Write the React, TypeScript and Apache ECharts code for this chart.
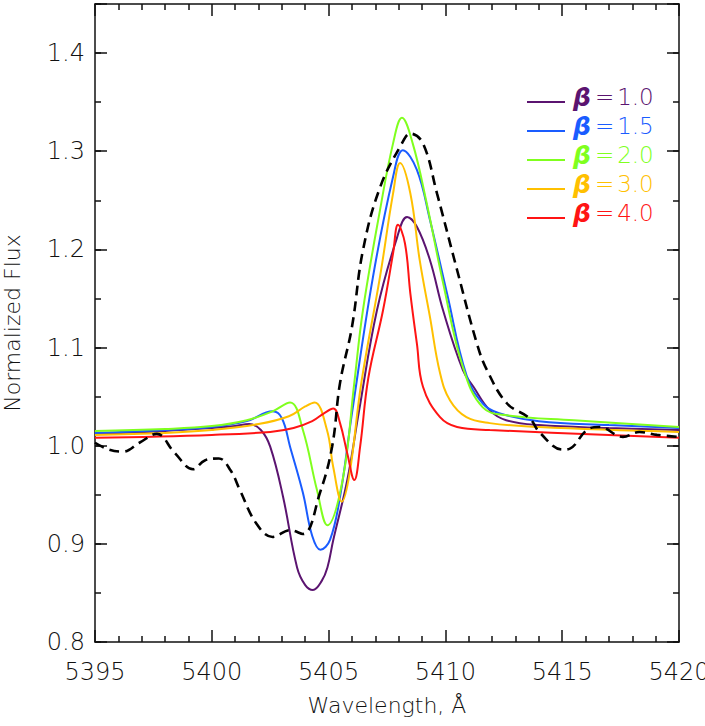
import React, { useEffect, useRef } from "react";
import * as echarts from "echarts";

// ---- data ----
const betaLabels = ["1.0", "1.5", "2.0", "3.0", "4.0"];
const betaColors = ["#5b1470", "#1a5cff", "#80ff1e", "#ffc000", "#ff1414"];

const wlB10 = [5395, 5398, 5400, 5401, 5401.6, 5402.1, 5402.5, 5403.05, 5403.65, 5404.0, 5404.33, 5404.7, 5404.95, 5405.2, 5405.8, 5406.3, 5407.07, 5407.93, 5408.36, 5408.78, 5409.34, 5409.9, 5410.75, 5411.2, 5411.9, 5412.6, 5414, 5417, 5420];
const fxB10 = [1.012, 1.015, 1.018, 1.02, 1.022, 1.016, 0.999, 0.948, 0.876, 0.858, 0.853, 0.862, 0.876, 0.904, 0.965, 1.035, 1.138, 1.212, 1.233, 1.223, 1.189, 1.138, 1.077, 1.06, 1.036, 1.026, 1.021, 1.018, 1.016];

const wlB15 = [5395, 5398, 5400, 5401.5, 5402.6, 5403.0, 5403.35, 5403.9, 5404.3, 5404.65, 5405.06, 5405.49, 5406.0, 5406.9, 5407.76, 5408.18, 5408.78, 5409.34, 5410.07, 5410.9, 5411.6, 5412.3, 5414, 5417, 5420];
const fxB15 = [1.013, 1.016, 1.019, 1.025, 1.035, 1.028, 0.999, 0.952, 0.908, 0.894, 0.904, 0.948, 1.033, 1.172, 1.274, 1.301, 1.281, 1.23, 1.155, 1.072, 1.043, 1.033, 1.025, 1.021, 1.018];

const wlB20 = [5395, 5398, 5400, 5401.5, 5402.6, 5403.35, 5403.9, 5404.5, 5404.95, 5405.6, 5406.1, 5406.47, 5407.2, 5407.76, 5408.14, 5408.6, 5409.2, 5409.9, 5410.75, 5411.6, 5412.64, 5415.5, 5420];
const fxB20 = [1.015, 1.017, 1.02, 1.026, 1.035, 1.044, 1.016, 0.955, 0.919, 0.965, 1.064, 1.138, 1.24, 1.308, 1.334, 1.308, 1.247, 1.166, 1.08, 1.039, 1.031, 1.026, 1.019];

const wlB30 = [5395, 5398, 5400, 5402, 5403.3, 5404.0, 5404.4, 5404.93, 5405.2, 5405.57, 5405.9, 5406.4, 5407.2, 5407.76, 5408.06, 5408.5, 5408.9, 5409.34, 5409.77, 5410.2, 5410.9, 5411.9, 5414, 5420];
const fxB30 = [1.011, 1.013, 1.016, 1.022, 1.03, 1.04, 1.044, 1.016, 0.978, 0.943, 0.972, 1.064, 1.172, 1.257, 1.288, 1.257, 1.189, 1.131, 1.074, 1.046, 1.029, 1.023, 1.019, 1.014];

const wlB40 = [5395, 5400, 5402.5, 5403.5, 5404.3, 5404.8, 5405.2, 5405.49, 5405.8, 5406.1, 5406.35, 5406.7, 5407.33, 5407.76, 5407.97, 5408.27, 5408.5, 5408.78, 5409.04, 5409.77, 5410.5, 5411.9, 5420];
const fxB40 = [1.008, 1.011, 1.014, 1.018, 1.025, 1.033, 1.038, 1.023, 0.992, 0.965, 0.999, 1.069, 1.138, 1.196, 1.225, 1.206, 1.155, 1.104, 1.06, 1.029, 1.019, 1.016, 1.008];

const wlObs = [5395, 5395.6, 5396.2, 5396.9, 5397.65, 5398.4, 5399.2, 5399.7, 5400.3, 5400.8, 5401.2, 5401.9, 5402.6, 5403.35, 5403.9, 5404.63, 5405.15, 5405.49, 5406.0, 5406.47, 5407.2, 5408.14, 5408.5, 5409.04, 5409.64, 5410.5, 5411.35, 5411.78, 5412.64, 5413.6, 5414.05, 5415.03, 5415.33, 5416.06, 5416.6, 5417.6, 5418.3, 5419.06, 5420];
const fxObs = [1.003, 0.996, 0.994, 1.003, 1.012, 0.993, 0.976, 0.985, 0.987, 0.975, 0.955, 0.921, 0.907, 0.914, 0.91, 0.952, 0.999, 1.064, 1.121, 1.199, 1.263, 1.308, 1.318, 1.308, 1.257, 1.179, 1.104, 1.077, 1.043, 1.028, 1.013, 0.996, 0.997, 1.016, 1.019, 1.009, 1.014, 1.011, 1.009];

const modelWl = [wlB10, wlB15, wlB20, wlB30, wlB40];
const modelFx = [fxB10, fxB15, fxB20, fxB30, fxB40];

const xMin = 5395, xMax = 5420, xMajor = 5, xMinorSplit = 5;
const yMin = 0.8, yMax = 1.45, yMajor = 0.1, yMinor = 0.05;

const FONT = "'DejaVu Sans', sans-serif";
const INK = "#111";

function pairs(xs: number[], ys: number[]) {
  return xs.map((x, i) => [x, ys[i]]);
}

export default function App() {
  const ref = useRef<HTMLDivElement>(null);
  useEffect(() => {
    if (!ref.current) return;
    const chart = echarts.init(ref.current, undefined, { renderer: "svg" });
    const axisLine = { show: true, onZero: false, lineStyle: { color: INK, width: 1.5 } };
    const majorTick = { show: true, inside: true, length: 12, lineStyle: { color: INK, width: 1.5 } };
    const minorTickX = { show: true, splitNumber: xMinorSplit, length: 6, lineStyle: { color: INK, width: 1.5 } };
    const xBase = {
      type: "value" as const, min: xMin, max: xMax, interval: xMajor,
      axisLine, axisTick: majorTick, minorTick: minorTickX,
      splitLine: { show: false }, minorSplitLine: { show: false },
    };
    const yBase = {
      type: "value" as const, min: yMin, max: yMax,
      splitLine: { show: false }, minorSplitLine: { show: false },
    };
    const labelFmt = (v: number) => {
      const k = v / yMajor;
      return Math.abs(k - Math.round(k)) < 1e-6 ? v.toFixed(1) : "";
    };

    const series: any[] = modelWl.map((wl, i) => ({
      type: "line",
      name: "β=" + betaLabels[i],
      data: pairs(wl, modelFx[i]),
      xAxisIndex: 0, yAxisIndex: 0,
      showSymbol: false, symbol: "none",
      smooth: 0.4,
      lineStyle: { color: betaColors[i], width: 2 },
      z: 3 + i,
    }));
    series.push({
      type: "line",
      name: "observed",
      data: pairs(wlObs, fxObs),
      xAxisIndex: 0, yAxisIndex: 0,
      showSymbol: false, symbol: "none",
      smooth: 0.4,
      lineStyle: { color: "#000", width: 2.6, type: [10, 6] },
      z: 10,
    });

    const legendGraphics: any[] = [];
    betaLabels.forEach((lab, i) => {
      const y = 102 + i * 29;
      legendGraphics.push({
        type: "line", shape: { x1: 527, y1: y, x2: 565, y2: y },
        style: { stroke: betaColors[i], lineWidth: 2 }, z: 20,
      });
      legendGraphics.push({
        type: "text", x: 573, y: y - 5, z: 20,
        style: {
          text: "{b|β}{e|=}{n|" + lab + "}",
          verticalAlign: "middle", align: "left",
          rich: {
            b: { fontFamily: FONT, fontSize: 25, fontWeight: "bold", fontStyle: "italic", fill: betaColors[i] },
            e: { fontFamily: FONT, fontSize: 23, fontWeight: 200, fill: betaColors[i], padding: [0, 3, 0, 4] },
            n: { fontFamily: FONT, fontSize: 23, fontWeight: 200, fill: betaColors[i] },
          },
        },
      });
    });

    const labelStyle = { fontSize: 24, color: INK, fontFamily: FONT, fontWeight: 200 as any };

    chart.setOption({
      animation: false,
      backgroundColor: "#fff",
      grid: { left: 95, right: 26, top: 4, bottom: 84, containLabel: false, outerBoundsMode: "none" },
      xAxis: [
        {
          ...xBase, position: "bottom",
          axisLabel: { show: true, ...labelStyle, margin: 18, formatter: (v: number) => String(Math.round(v)) },
          name: "Wavelength, Å", nameLocation: "middle", nameGap: 52,
          nameTextStyle: { fontSize: 22, color: INK, fontFamily: FONT, fontWeight: 200 },
        },
        { ...xBase, position: "top", axisLabel: { show: false } },
      ],
      yAxis: [
        {
          ...yBase, interval: yMajor, position: "left",
          axisLine, axisTick: majorTick,
          axisLabel: { show: true, ...labelStyle, margin: 10, formatter: labelFmt },
          name: "Normalized Flux", nameLocation: "middle", nameGap: 72,
          nameTextStyle: { fontSize: 22, color: INK, fontFamily: FONT, fontWeight: 200 },
        },
        { ...yBase, interval: yMajor, position: "right", axisLine, axisTick: majorTick, axisLabel: { show: false } },
        {
          ...yBase, interval: yMinor, position: "left",
          axisLine: { show: false }, axisLabel: { show: false },
          axisTick: { show: true, inside: true, length: 6, lineStyle: { color: INK, width: 1.5 } },
        },
        {
          ...yBase, interval: yMinor, position: "right",
          axisLine: { show: false }, axisLabel: { show: false },
          axisTick: { show: true, inside: true, length: 6, lineStyle: { color: INK, width: 1.5 } },
        },
      ],
      series,
      graphic: legendGraphics,
    });
    return () => chart.dispose();
  }, []);
  return (
    <div
      ref={ref}
      style={{ position: "absolute", left: 0, top: 0, width: 705, height: 726, background: "#fff" }}
    />
  );
}
